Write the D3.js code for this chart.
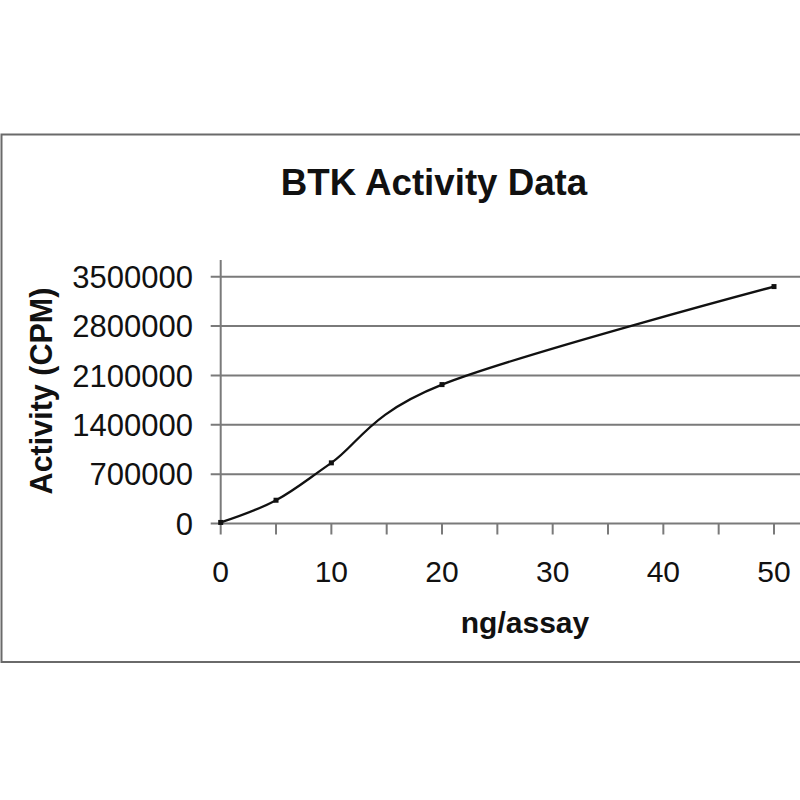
<!DOCTYPE html>
<html>
<head>
<meta charset="utf-8">
<script src="https://cdn.jsdelivr.net/npm/d3@7"></script>
<style>
  body { margin: 0; background: #fff; }
  text { font-family: "Liberation Sans", Arial, sans-serif; fill: #111; }
</style>
</head>
<body>
<div id="canvas"></div>
<script>
"use strict"

/* Data */
let amounts = [0, 5, 10, 20, 50];                         // ng/assay
let activity = [15000, 330000, 860000, 1970000, 3360000]; // CPM
let yTicks = [0, 700000, 1400000, 2100000, 2800000, 3500000];
let xLabels = [0, 10, 20, 30, 40, 50];
let xMinor = [0, 5, 10, 15, 20, 25, 30, 35, 40, 45, 50];

/* Drawing config */
let svgWidth = 800;
let svgHeight = 800;
let left = 220.7;
let bottom = 523.5;
let gridRight = 800;

let svg = d3.select("#canvas")
    .append("svg")
    .attr("width", svgWidth)
    .attr("height", svgHeight);

/* Frame around the chart area */
svg.append("rect")
    .attr("x", 1.5)
    .attr("y", 134.5)
    .attr("width", 830)
    .attr("height", 527.5)
    .attr("fill", "none")
    .attr("stroke", "#6a6a6a")
    .attr("stroke-width", 2);

/* Scales */
let xScale = d3.scaleLinear()
    .domain([0, 50])
    .range([left, 774]);

let yScale = d3.scaleLinear()
    .domain([0, 3500000])
    .range([bottom, 276.7]);

/* Horizontal gridlines with tick stubs to the left */
svg.selectAll(".grid")
    .data(yTicks)
    .join("line")
    .attr("class", "grid")
    .attr("x1", left - 10)
    .attr("x2", gridRight)
    .attr("y1", d => yScale(d))
    .attr("y2", d => yScale(d))
    .attr("stroke", "#7a7a7a")
    .attr("stroke-width", 2);

/* y axis line */
svg.append("line")
    .attr("x1", left)
    .attr("x2", left)
    .attr("y1", 260)
    .attr("y2", bottom)
    .attr("stroke", "#7a7a7a")
    .attr("stroke-width", 2);

/* x ticks */
svg.selectAll(".xtick")
    .data(xMinor)
    .join("line")
    .attr("class", "xtick")
    .attr("x1", d => xScale(d))
    .attr("x2", d => xScale(d))
    .attr("y1", bottom)
    .attr("y2", bottom + 11)
    .attr("stroke", "#7a7a7a")
    .attr("stroke-width", 2);

/* y tick labels */
svg.selectAll(".ylab")
    .data(yTicks)
    .join("text")
    .attr("class", "ylab")
    .attr("x", 193)
    .attr("y", d => yScale(d))
    .attr("dy", "0.36em")
    .attr("text-anchor", "end")
    .attr("font-size", 31)
    .text(d => d);

/* x tick labels */
svg.selectAll(".xlab")
    .data(xLabels)
    .join("text")
    .attr("class", "xlab")
    .attr("x", d => xScale(d))
    .attr("y", 582)
    .attr("text-anchor", "middle")
    .attr("font-size", 30)
    .text(d => d);

/* the smoothed curve */
let points = amounts.map((a, i) => [a, activity[i]]);

let line = d3.line()
    .x(d => xScale(d[0]))
    .y(d => yScale(d[1]))
    .curve(d3.curveCatmullRom.alpha(0));

svg.append("path")
    .datum(points)
    .attr("d", line)
    .attr("fill", "none")
    .attr("stroke", "#111")
    .attr("stroke-width", 2.3);

/* small square markers */
svg.selectAll(".pt")
    .data(points)
    .join("rect")
    .attr("class", "pt")
    .attr("x", d => xScale(d[0]) - 2.5)
    .attr("y", d => yScale(d[1]) - 2.5)
    .attr("width", 5)
    .attr("height", 5)
    .attr("fill", "#111");

/* titles */
svg.append("text")
    .attr("x", 434)
    .attr("y", 195)
    .attr("text-anchor", "middle")
    .attr("font-size", 36.7)
    .attr("font-weight", "bold")
    .text("BTK Activity Data");

svg.append("text")
    .attr("x", 525)
    .attr("y", 633)
    .attr("text-anchor", "middle")
    .attr("font-size", 30)
    .attr("font-weight", "bold")
    .text("ng/assay");

svg.append("text")
    .attr("transform", "translate(52,391) rotate(-90)")
    .attr("text-anchor", "middle")
    .attr("font-size", 30.5)
    .attr("font-weight", "bold")
    .text("Activity (CPM)");
</script>
</body>
</html>
